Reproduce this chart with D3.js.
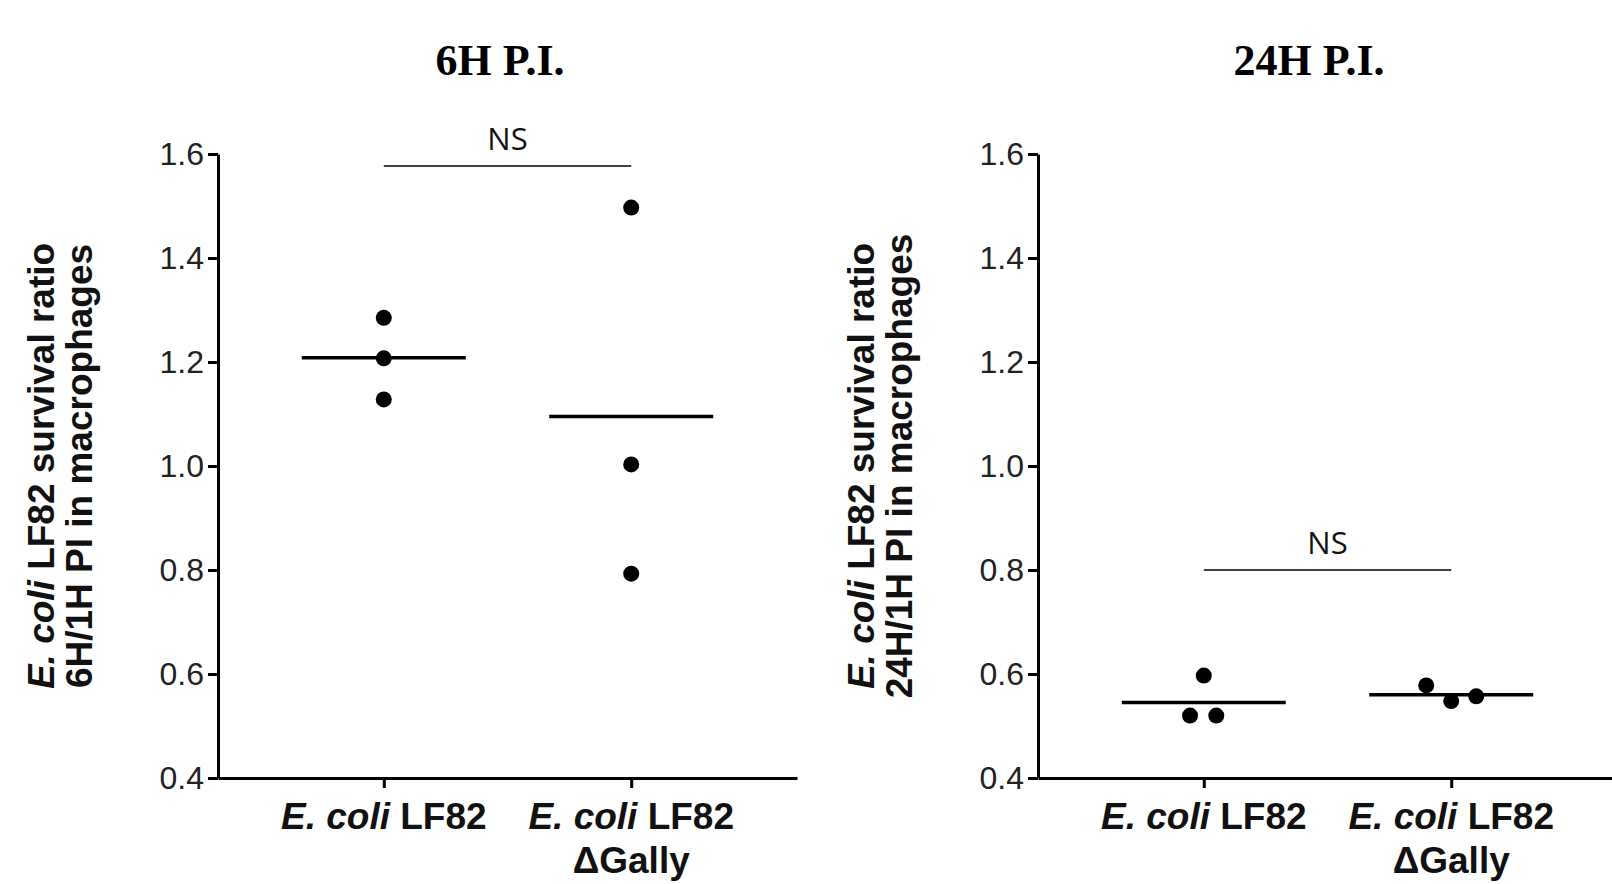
<!DOCTYPE html>
<html>
<head>
<meta charset="utf-8">
<title>E. coli LF82 survival</title>
<style>
body { margin: 0; background: #fff; }
svg { display: block; }
.tick text { font-family: "Liberation Sans", Arial, sans-serif; fill: #222; }
</style>
<script src="https://d3js.org/d3.v7.min.js"></script>
</head>
<body>
<svg id="chart" width="1612" height="884"></svg>
<script>
// groups on the x axis
const categories = ["LF82", "LF82 Gally"];
const yTicks = [0.4, 0.6, 0.8, 1.0, 1.2, 1.4, 1.6];

const panelTitles = ["6H P.I.", "24H P.I."];
const yTitleLine2 = ["6H/1H PI in macrophages", "24H/1H PI in macrophages"];

// 6H panel: individual ratios, median per group
const values6h = [[1.285, 1.207, 1.128], [1.497, 1.003, 0.793]];
const jitter6h = [[0, 0, 0], [0, 0, 0]];
const median6h = [1.208, 1.095];

// 24H panel
const values24h = [[0.597, 0.52, 0.52], [0.578, 0.548, 0.557]];
const jitter24h = [[0, -0.55, 0.5], [-1, 0, 1]];
const median24h = [0.545, 0.56];

// height of the NS bracket for each panel
const nsLevel = [1.577, 0.80];

const svg = d3.select("#chart");

const panels = [
  { title: panelTitles[0], line2: yTitleLine2[0], values: values6h, jitter: jitter6h, median: median6h, ns: nsLevel[0], left: 218, titleX: 500 },
  { title: panelTitles[1], line2: yTitleLine2[1], values: values24h, jitter: jitter24h, median: median24h, ns: nsLevel[1], left: 1038, titleX: 1309 }
];

const plotTop = 154, plotBottom = 778, plotW = 579;

panels.forEach(function(p) {
  const g = svg.append("g");

  const y = d3.scaleLinear().domain([0.4, 1.6]).range([plotBottom, plotTop]);
  const x = d3.scalePoint().domain(categories).range([p.left, p.left + plotW]).padding(0.67);

  // y axis
  const yAxis = g.append("g")
    .attr("transform", "translate(" + p.left + ",0)")
    .call(d3.axisLeft(y).tickValues(yTicks).tickFormat(d3.format(".1f")).tickSize(10).tickSizeOuter(0).tickPadding(4));
  yAxis.selectAll("path, line").attr("stroke", "#000").attr("stroke-width", 3);
  yAxis.selectAll("text").attr("font-size", 32);

  // x axis
  const xAxis = g.append("g")
    .attr("transform", "translate(0," + plotBottom + ")")
    .call(d3.axisBottom(x).tickSize(10).tickSizeOuter(0).tickFormat(""));
  xAxis.selectAll("path, line").attr("stroke", "#000").attr("stroke-width", 3);

  // x labels: italic species + bold strain
  categories.forEach(function(c, i) {
    const t = g.append("text")
      .attr("x", x(c)).attr("y", 829)
      .attr("text-anchor", "middle")
      .attr("font-family", "Liberation Sans, Arial, sans-serif")
      .attr("font-weight", "bold")
      .attr("font-size", 37)
      .attr("fill", "#111");
    t.append("tspan").attr("font-style", "italic").text("E. coli");
    t.append("tspan").text(" LF82");
    if (i == 1) {
      g.append("text")
        .attr("x", x(c)).attr("y", 873)
        .attr("text-anchor", "middle")
        .attr("font-family", "Liberation Sans, Arial, sans-serif")
        .attr("font-weight", "bold")
        .attr("font-size", 37)
        .attr("fill", "#111")
        .text("\u0394Gally");
    }
  });

  // y title, two lines
  const midY = (plotTop + plotBottom) / 2;
  const yt1 = g.append("text")
    .attr("transform", "translate(" + (p.left - 164) + "," + midY + ") rotate(-90)")
    .attr("text-anchor", "middle")
    .attr("font-family", "Liberation Sans, Arial, sans-serif")
    .attr("font-weight", "bold")
    .attr("font-size", 37)
    .attr("fill", "#111");
  yt1.append("tspan").attr("font-style", "italic").text("E. coli");
  yt1.append("tspan").text(" LF82 survival ratio");
  g.append("text")
    .attr("transform", "translate(" + (p.left - 126) + "," + midY + ") rotate(-90)")
    .attr("text-anchor", "middle")
    .attr("font-family", "Liberation Sans, Arial, sans-serif")
    .attr("font-weight", "bold")
    .attr("font-size", 37)
    .attr("fill", "#111")
    .text(p.line2);

  // panel title
  g.append("text")
    .attr("x", p.titleX).attr("y", 75)
    .attr("text-anchor", "middle")
    .attr("font-family", "Liberation Serif, Times New Roman, serif")
    .attr("font-weight", "bold")
    .attr("font-size", 44)
    .text(p.title);

  // NS bracket
  g.append("line")
    .attr("x1", x(categories[0])).attr("x2", x(categories[1]))
    .attr("y1", y(p.ns)).attr("y2", y(p.ns))
    .attr("stroke", "#000").attr("stroke-width", 1.5);
  g.append("text")
    .attr("x", (x(categories[0]) + x(categories[1])) / 2)
    .attr("y", y(p.ns) - 16)
    .attr("text-anchor", "middle")
    .attr("font-family", "Open Sans, sans-serif")
    .attr("font-size", 31)
    .attr("fill", "#111")
    .text("NS");

  // medians
  g.selectAll(".median")
    .data(p.median)
    .join("line")
    .attr("class", "median")
    .attr("x1", function(d, i) { return x(categories[i]) - 82; })
    .attr("x2", function(d, i) { return x(categories[i]) + 82; })
    .attr("y1", function(d) { return y(d); })
    .attr("y2", function(d) { return y(d); })
    .attr("stroke", "#000").attr("stroke-width", 3.5);

  // points
  const pts = [];
  p.values.forEach(function(vals, i) {
    vals.forEach(function(v, j) {
      pts.push({ cat: categories[i], v: v, jit: p.jitter[i][j] });
    });
  });
  g.selectAll(".dot")
    .data(pts)
    .join("circle")
    .attr("class", "dot")
    .attr("cx", function(d) { return x(d.cat) + d.jit * 25; })
    .attr("cy", function(d) { return y(d.v); })
    .attr("r", 8)
    .attr("fill", "#000");
});
</script>
</body>
</html>
